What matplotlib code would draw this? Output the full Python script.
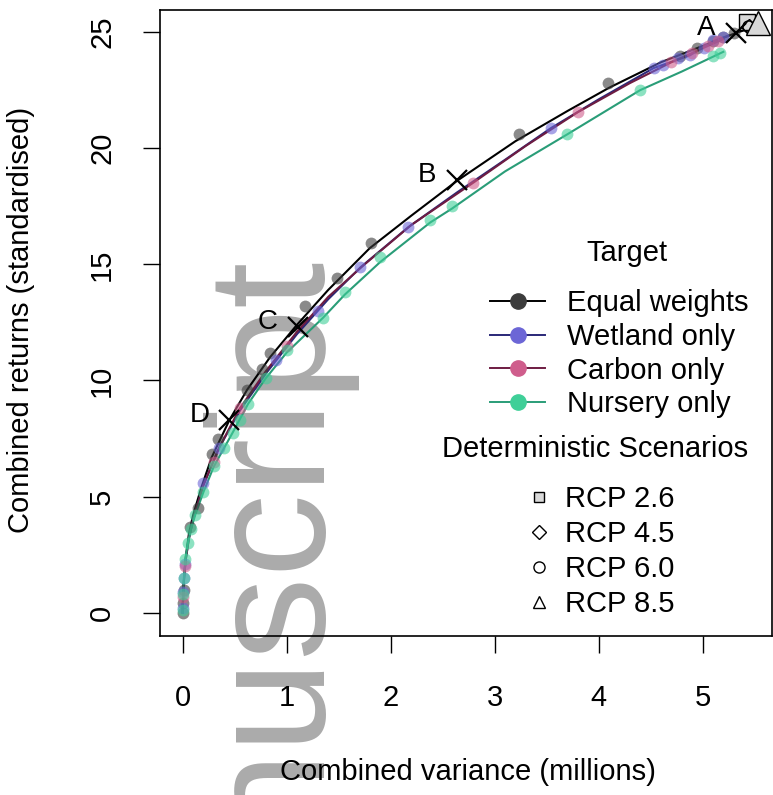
import numpy as np
import matplotlib
matplotlib.use("Agg")
from matplotlib import pyplot as plt
from matplotlib.lines import Line2D

plt.rcParams["font.family"] = ["Liberation Sans", "DejaVu Sans"]
plt.rcParams["font.size"] = 21

# frontier lines (combined variance in millions, combined returns)
eq_line_x = [0, 0.005, 0.015, 0.03, 0.06, 0.1, 0.18, 0.28, 0.45, 0.62, 0.84, 1.1, 1.4, 1.8, 2.2, 2.64, 3.2, 3.7, 4.1, 4.6, 5.0, 5.32, 5.45]
eq_line_y = [0, 0.8, 1.6, 2.4, 3.4, 4.2, 5.4, 6.7, 8.3, 9.6, 11.0, 12.4, 13.9, 15.7, 17.1, 18.6, 20.3, 21.6, 22.6, 23.7, 24.4, 24.96, 25.15]
wet_line_x = [0, 0.005, 0.015, 0.03, 0.06, 0.1, 0.2, 0.35, 0.55, 0.8, 1.1, 1.4, 1.71, 2.17, 2.64, 3.1, 3.54, 4.0, 4.53, 4.88, 5.1, 5.25]
wet_line_y = [0, 0.8, 1.6, 2.3, 3.2, 4.0, 5.5, 7.1, 8.7, 10.3, 12.0, 13.5, 14.87, 16.6, 18.1, 19.5, 20.86, 22.1, 23.45, 24.0, 24.6, 24.85]
carb_line_x = [0, 0.005, 0.015, 0.03, 0.06, 0.1, 0.2, 0.35, 0.55, 0.8, 1.1, 1.4, 1.75, 2.2, 2.79, 3.3, 3.8, 4.3, 4.7, 5.05, 5.2]
carb_line_y = [0, 0.8, 1.6, 2.3, 3.2, 4.0, 5.5, 7.1, 8.8, 10.4, 12.1, 13.6, 15.0, 16.7, 18.5, 20.1, 21.55, 22.8, 23.7, 24.4, 24.7]
nurs_line_x = [0, 0.005, 0.012, 0.025, 0.05, 0.08, 0.12, 0.2, 0.3, 0.48, 0.63, 0.8, 1.0, 1.35, 1.56, 1.9, 2.38, 2.59, 3.1, 3.7, 4.4, 4.8, 5.2]
nurs_line_y = [0, 0.8, 1.5, 2.3, 3.0, 3.6, 4.2, 5.2, 6.3, 7.75, 9.0, 10.1, 11.2, 12.7, 13.7, 15.1, 16.8, 17.4, 19.0, 20.6, 22.5, 23.3, 24.15]

# portfolio points
eq_pts_x = [0, 0.0, 0.01, 0.07, 0.15, 0.28, 0.34, 0.62, 0.76, 0.84, 1.18, 1.48, 1.81, 3.23, 4.09, 4.78, 4.95, 5.1, 5.2, 5.3]
eq_pts_y = [0, 0.4, 1.0, 3.7, 4.5, 6.85, 7.5, 9.6, 10.5, 11.2, 13.2, 14.4, 15.9, 20.6, 22.8, 23.95, 24.3, 24.6, 24.8, 24.95]
wet_pts_x = [0, 0.005, 0.01, 0.02, 0.2, 0.35, 0.9, 1.3, 1.71, 2.17, 3.54, 4.53, 4.62, 4.76, 4.88, 5.01, 5.1, 5.2]
wet_pts_y = [0.2, 0.9, 1.5, 2.1, 5.6, 7.1, 10.9, 13.0, 14.87, 16.6, 20.86, 23.45, 23.6, 23.9, 24.0, 24.3, 24.66, 24.8]
carb_pts_x = [0.005, 0.02, 0.3, 0.55, 1.0, 2.79, 3.8, 4.7, 4.9, 5.05, 5.15]
carb_pts_y = [0.7, 2.0, 6.5, 8.8, 11.5, 18.5, 21.55, 23.7, 24.1, 24.4, 24.6]
nurs_pts_x = [0, 0.005, 0.012, 0.025, 0.05, 0.08, 0.12, 0.2, 0.3, 0.4, 0.48, 0.55, 0.63, 0.8, 1.0, 1.35, 1.56, 1.9, 2.38, 2.59, 3.7, 4.4, 5.1, 5.17]
nurs_pts_y = [0.1, 0.8, 1.5, 2.3, 3.0, 3.6, 4.2, 5.2, 6.3, 7.1, 7.75, 8.3, 9.0, 10.1, 11.3, 12.7, 13.8, 15.3, 16.9, 17.5, 20.6, 22.5, 23.95, 24.1]

# labelled portfolios
lab_names = ["A", "B", "C", "D"]
lab_x = [5.32, 2.64, 1.11, 0.45]
lab_y = [24.96, 18.62, 12.3, 8.28]

# deterministic scenarios
scen_names = ["RCP 2.6", "RCP 4.5", "RCP 6.0", "RCP 8.5"]
scen_x = [5.43, 5.45, 5.44, 5.53]
scen_y = [25.45, 25.2, 25.25, 25.4]

targets = ["Equal weights", "Wetland only", "Carbon only", "Nursery only"]
line_cols = ["#000000", "#2a2878", "#6e1c42", "#2a9d78"]
pt_cols = ["#3c3c3c", "#6c66d6", "#cf5d8c", "#3fcf98"]

W, H = 773, 795
fig = plt.figure(figsize=(W / 100, H / 100), dpi=100)
fig.patch.set_facecolor("white")
ax = fig.add_axes([160 / W, 1 - 636 / H, (772 - 160) / W, (636 - 10) / H])
ax.patch.set_alpha(0)

series = [(eq_line_x, eq_line_y, eq_pts_x, eq_pts_y),
          (wet_line_x, wet_line_y, wet_pts_x, wet_pts_y),
          (carb_line_x, carb_line_y, carb_pts_x, carb_pts_y),
          (nurs_line_x, nurs_line_y, nurs_pts_x, nurs_pts_y)]
for i, (lx, ly, px, py) in enumerate(series):
    ax.plot(lx, ly, color=line_cols[i], lw=1.5, zorder=3)
    ax.plot(px, py, "o", ms=8.5, color=pt_cols[i], alpha=0.6, mew=0, zorder=4)

# scenarios
scen_mk = ["s", "D", "o", "^"]
scen_ms = [11, 8, 8, 17]
scen_fc = ["#d9d9d9", "none", "none", "#d9d9d9"]
for i in range(4):
    ax.plot(scen_x[i], scen_y[i], scen_mk[i], ms=scen_ms[i], mfc=scen_fc[i], mec="black",
            mew=1.0, zorder=5, clip_on=False)

ax.plot(lab_x, lab_y, "x", color="black", ms=14, mew=1.6, zorder=6)
for n, x, y in zip(lab_names, lab_x, lab_y):
    ax.annotate(n, (x, y), xytext=(-30, 5), textcoords="offset pixels",
                ha="center", va="center", fontsize=20, zorder=6)

ax.set_xlim(-0.218, 5.668)
ax.set_ylim(-1.0, 25.95)
ax.set_xticks([0, 1, 2, 3, 4, 5])
ax.set_yticks([0, 5, 10, 15, 20, 25])
ax.tick_params(direction="out", length=12.5, width=1.0, pad=19)
ax.tick_params(axis="x", pad=22)
ax.tick_params(axis="y", labelrotation=90)
for t in ax.get_yticklabels():
    t.set_va("center")
for s in ax.spines.values():
    s.set_linewidth(1.2)

ax.set_xlabel("Combined variance (millions)")
ax.xaxis.set_label_coords(0.503, -0.195)
ax.set_ylabel("Combined returns (standardised)")
ax.yaxis.set_label_coords(-0.205, 0.505)

# legends
h1 = [Line2D([], [], color=line_cols[i], lw=1.4, marker="o", ms=11,
             mfc=pt_cols[i], mec=pt_cols[i], alpha=1) for i in range(4)]
leg1 = ax.legend(h1, targets, loc="upper left", frameon=False, fontsize=21,
                 bbox_to_anchor=(490 / W, 1 - 289 / H), bbox_transform=fig.transFigure,
                 borderpad=0, borderaxespad=0, handlelength=1.9, handletextpad=0.75,
                 labelspacing=0.2)
ax.add_artist(leg1)
fig.text(627 / W, 1 - 253 / H, "Target", ha="center", va="center", fontsize=21)

h2 = [Line2D([], [], ls="none", marker=scen_mk[i], ms=[7, 7, 8, 9][i], mfc=["#d9d9d9", "none", "none", "none"][i],
             mec="black", mew=1.0) for i in range(4)]
leg2 = ax.legend(h2, scen_names, loc="upper left", frameon=False, fontsize=21,
                 bbox_to_anchor=(527 / W, 1 - 485 / H), bbox_transform=fig.transFigure,
                 borderpad=0, borderaxespad=0, handlelength=0.8, handletextpad=0.5,
                 labelspacing=0.24)
fig.text(595 / W, 1 - 449 / H, "Deterministic Scenarios", ha="center", va="center", fontsize=21)

# watermark
fig.text(314 / W, 1 - 250 / H, "nuscript", rotation=90, rotation_mode="anchor",
         ha="right", va="baseline", fontsize=120, color="#ababab", zorder=-1)

fig.savefig("out.png", dpi=100)
